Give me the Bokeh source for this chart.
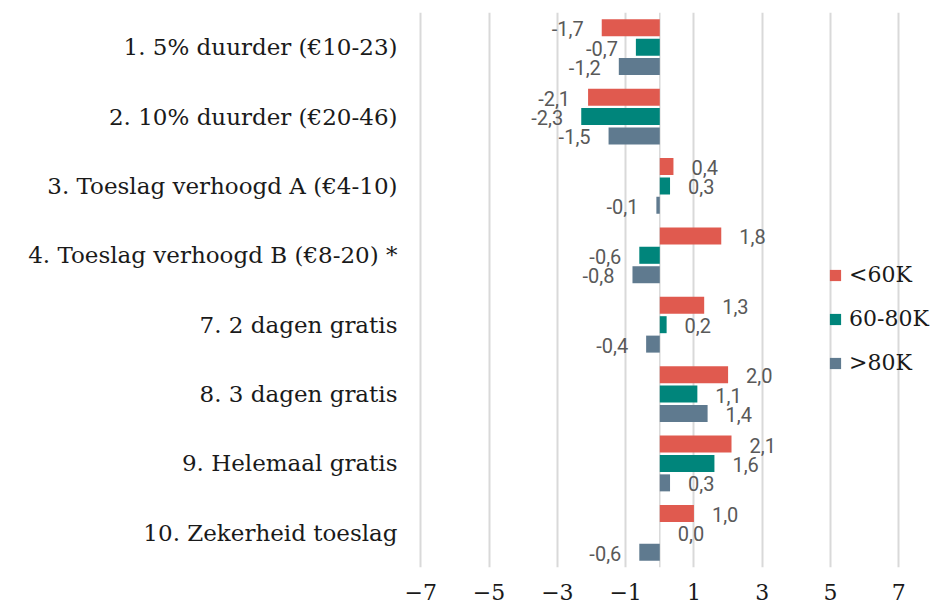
from bokeh.plotting import figure
from bokeh.models import (ColumnDataSource, FactorRange, Range1d, FixedTicker,
                          Legend, LegendItem, Span)
from bokeh.transform import dodge
from bokeh.core.properties import value
from bokeh.embed import file_html
from bokeh.resources import INLINE

categories = [
    "1. 5% duurder (€10-23)",
    "2. 10% duurder (€20-46)",
    "3. Toeslag verhoogd A (€4-10)",
    "4. Toeslag verhoogd B (€8-20) *",
    "7. 2 dagen gratis",
    "8. 3 dagen gratis",
    "9. Helemaal gratis",
    "10. Zekerheid toeslag",
]
series_names = ["<60K", "60-80K", ">80K"]
under_60k = [-1.7, -2.1, 0.4, 1.8, 1.3, 2.0, 2.1, 1.0]
from_60_80k = [-0.7, -2.3, 0.3, -0.6, 0.2, 1.1, 1.6, 0.0]
over_80k = [-1.2, -1.5, -0.1, -0.8, -0.4, 1.4, 0.3, -0.6]
x_ticks = [-7, -5, -3, -1, 1, 3, 5, 7]
x_tick_labels = ["\u22127", "\u22125", "\u22123", "\u22121", "1", "3", "5", "7"]

colors = ["#E05A4F", "#00857B", "#5F7A8F"]
offsets = [0.28, 0.0, -0.28]
SERIF = "DejaVu Serif"

p = figure(width=940, height=610, output_backend="svg", toolbar_location=None,
           y_range=FactorRange(factors=list(reversed(categories)), range_padding=0),
           x_range=Range1d(-7.3, 8.22),
           min_border_left=410, min_border_top=12, min_border_bottom=43, min_border_right=0)
p.outline_line_color = None
p.background_fill_color = "white"
p.ygrid.grid_line_color = None
p.xgrid.grid_line_color = "#D9D9D9"
p.xgrid.grid_line_width = 2

p.add_layout(Span(location=0, dimension="height", line_color="#D9D9D9",
                  line_width=1.5, level="underlay"))

items = []
for name, vals, col, off in zip(series_names, [under_60k, from_60_80k, over_80k], colors, offsets):
    labels = [f"{v:.1f}".replace(".", ",") for v in vals]
    aligns = ["left" if v >= 0 else "right" for v in vals]
    xoffs = [18 if v >= 0 else -18 for v in vals]
    src = ColumnDataSource(dict(cat=categories, val=vals, lab=labels, al=aligns, xo=xoffs))
    r = p.hbar(y=dodge("cat", off, range=p.y_range), left=0, right="val", height=0.245,
               fill_color=col, line_color=None, source=src)
    p.text(x="val", y=dodge("cat", off, range=p.y_range), text="lab", source=src,
           text_align="al", x_offset="xo", y_offset=1, text_baseline="middle",
           text_font=value("Roboto"), text_font_size="20px", text_color="#595959")
    items.append(LegendItem(label=name, renderers=[r]))

legend = Legend(items=items, location=(418, 192), orientation="vertical",
                label_text_font=SERIF, label_text_font_size="22px", label_text_color="#1a1a1a",
                glyph_width=14, glyph_height=14, label_height=20, spacing=19,
                padding=0, margin=0, label_standoff=7,
                border_line_color=None, background_fill_alpha=0)
p.add_layout(legend)

p.xaxis.ticker = FixedTicker(ticks=x_ticks)
p.xaxis.major_label_overrides = {t: l for t, l in zip(x_ticks, x_tick_labels)}
p.xaxis.axis_line_color = None
p.xaxis.major_tick_line_color = None
p.xaxis.minor_tick_line_color = None
p.xaxis.major_label_text_font = SERIF
p.xaxis.major_label_text_font_size = "22px"
p.xaxis.major_label_text_color = "#1a1a1a"
p.xaxis.major_label_standoff = 10

p.yaxis.axis_line_color = None
p.yaxis.major_tick_line_color = None
p.yaxis.minor_tick_line_color = None
p.yaxis.major_label_text_font = SERIF
p.yaxis.major_label_text_font_size = "23px"
p.yaxis.major_label_text_color = "#1a1a1a"
p.yaxis.major_label_standoff = 7

open("out.html", "w").write(file_html(p, INLINE))
